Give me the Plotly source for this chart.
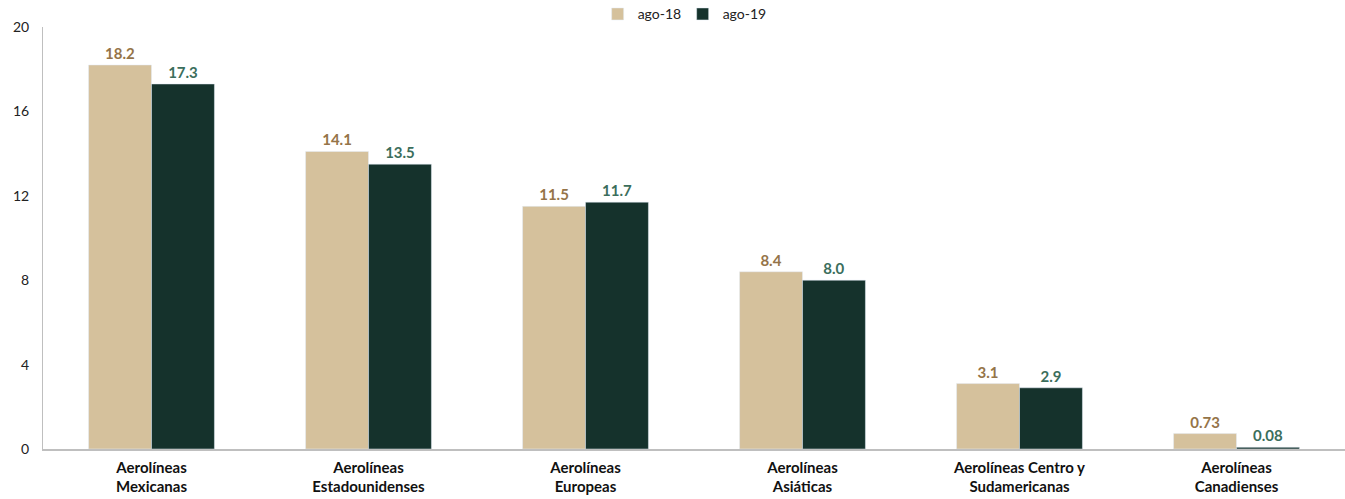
import plotly.graph_objects as go

categories = ["Aerolíneas<br>Mexicanas", "Aerolíneas<br>Estadounidenses", "Aerolíneas<br>Europeas",
              "Aerolíneas<br>Asiáticas", "Aerolíneas Centro y<br>Sudamericanas", "Aerolíneas<br>Canadienses"]
ago18 = [18.2, 14.1, 11.5, 8.4, 3.1, 0.73]
ago19 = [17.3, 13.5, 11.7, 8.0, 2.9, 0.08]
labels18 = ["18.2", "14.1", "11.5", "8.4", "3.1", "0.73"]
labels19 = ["17.3", "13.5", "11.7", "8.0", "2.9", "0.08"]
yticks = [0, 4, 8, 12, 16, 20]

FONT = "Lato, Calibri, sans-serif"

fig = go.Figure()
fig.add_trace(go.Bar(x=categories, y=ago18, name="ago-18", marker_color="#D5C19C",
                     text=labels18, textposition="outside", cliponaxis=False,
                     textfont=dict(color="#957448", size=15, family=FONT, weight="bold")))
fig.add_trace(go.Bar(x=categories, y=ago19, name="ago-19", marker_color="#15322C",
                     text=labels19, textposition="outside", cliponaxis=False,
                     textfont=dict(color="#3B6E5C", size=15, family=FONT, weight="bold")))

fig.update_layout(
    width=1345, height=499,
    margin=dict(l=43, r=0, t=27, b=50, autoexpand=False),
    plot_bgcolor="white", paper_bgcolor="white",
    barmode="group", bargap=0.42, bargroupgap=0,
    font=dict(family=FONT, size=14, color="#222222"),
    legend=dict(orientation="h", x=0.426, xanchor="left", y=1.03, yanchor="middle",
                font=dict(size=14, family=FONT), itemwidth=30, entrywidth=40,
                traceorder="normal"),
    xaxis=dict(showline=True, linecolor="#BFBFBF", linewidth=1.5, ticks="",
               ticklabelstandoff=4,
               tickfont=dict(size=15, family=FONT, weight="bold", color="#111111")),
    yaxis=dict(range=[0, 20], tickvals=yticks, showgrid=False, showline=True,
               linecolor="#BFBFBF", linewidth=1, ticks="", zeroline=False,
               ticklabelstandoff=10,
               tickfont=dict(size=14, family=FONT, color="#222222")),
    showlegend=True,
)

fig.write_html("out.html", config={"displayModeBar": False},
               post_script="document.body.style.margin='0';")
